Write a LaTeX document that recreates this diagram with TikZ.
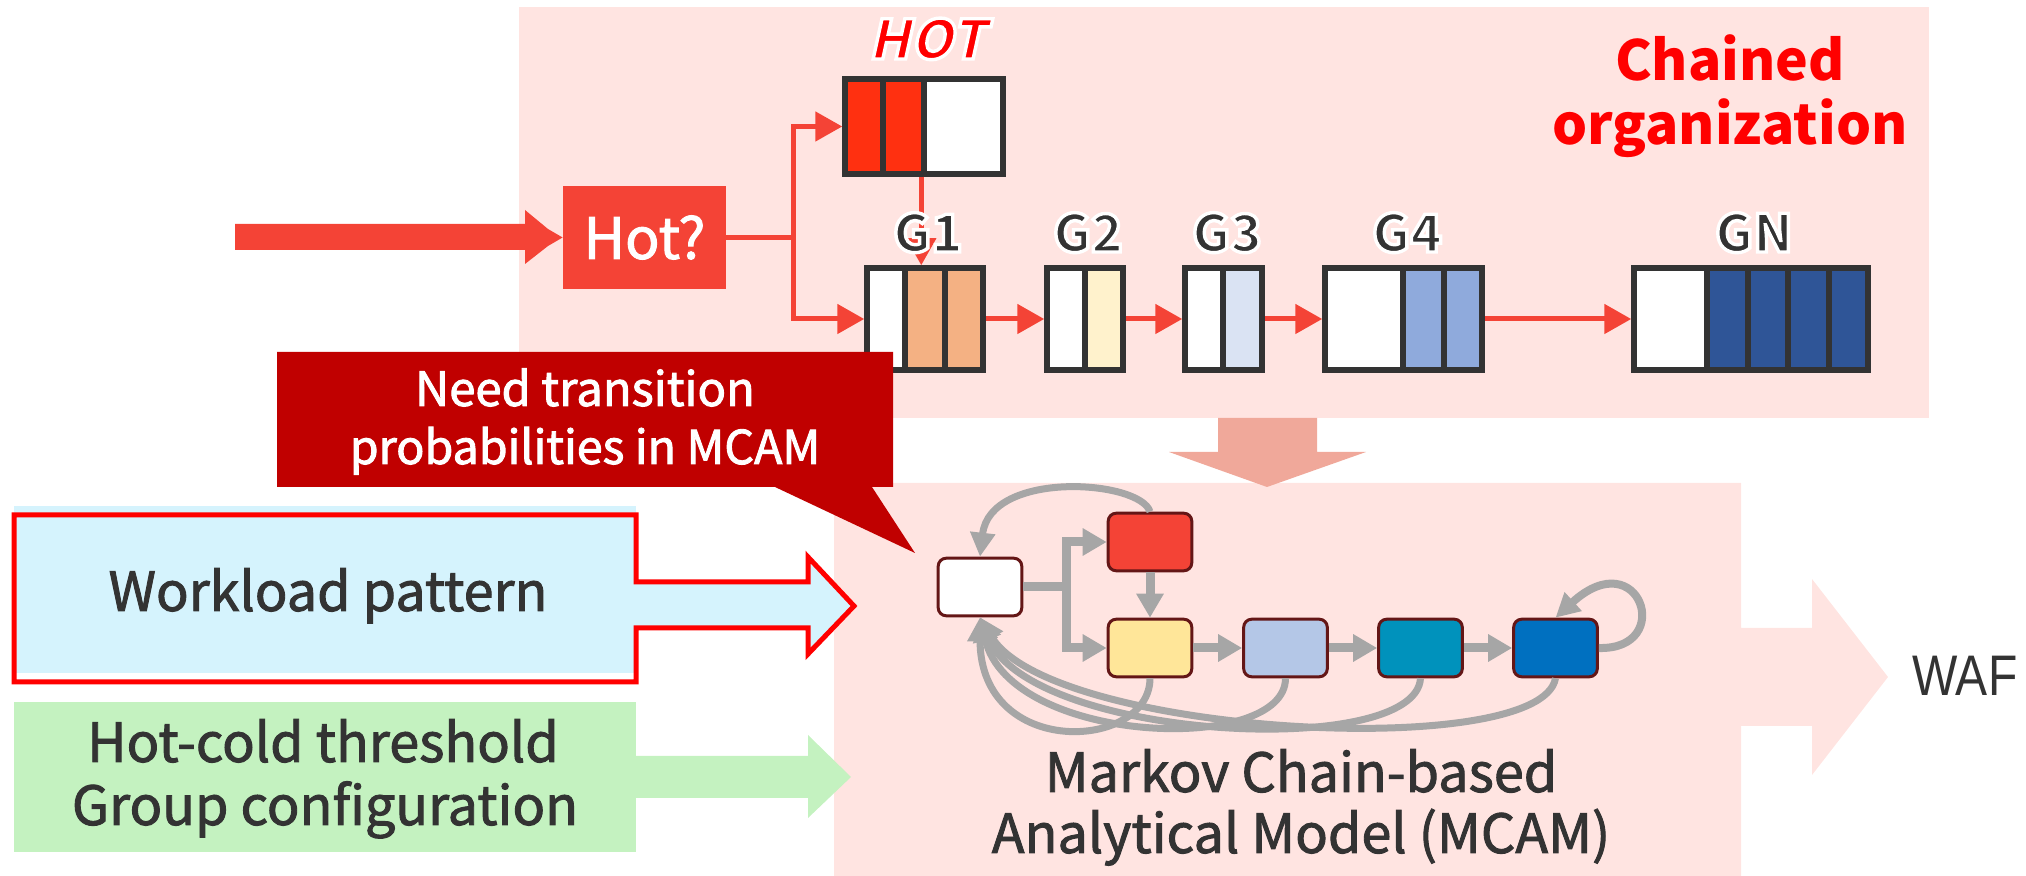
\documentclass[tikz,border=0pt]{standalone}
\usepackage{fontspec}
\setmainfont{Noto Sans CJK JP}
\newfontfamily\slantfont{Noto Sans CJK JP}[FakeSlant=0.22]
\newfontfamily\waffont{Liberation Sans}[FakeStretch=0.84]
\usetikzlibrary{arrows.meta,fit}

\definecolor{panelpink}{RGB}{255,228,225}
\definecolor{arrowred}{RGB}{244,67,54}
\definecolor{boxline}{RGB}{51,51,51}
\definecolor{hotred}{RGB}{255,48,16}
\definecolor{gpeach}{RGB}{244,177,131}
\definecolor{gcream}{RGB}{255,242,204}
\definecolor{glav}{RGB}{218,227,243}
\definecolor{gsky}{RGB}{143,170,220}
\definecolor{gnavy}{RGB}{47,85,151}
\definecolor{inktext}{RGB}{51,51,51}
\definecolor{salmon}{RGB}{240,168,154}
\definecolor{callred}{RGB}{192,0,0}
\definecolor{wlblue}{RGB}{213,243,253}
\definecolor{cfggreen}{RGB}{196,242,192}
\definecolor{stateline}{RGB}{100,22,22}
\definecolor{flowgray}{RGB}{166,166,166}
\definecolor{sred}{RGB}{244,67,54}
\definecolor{syellow}{RGB}{255,230,153}
\definecolor{sblue}{RGB}{180,199,231}
\definecolor{steal}{RGB}{0,146,188}
\definecolor{sdeep}{RGB}{0,112,192}
\definecolor{pure}{RGB}{255,0,0}

% bold glyphs whose edge is stroked in white: a thin white outline
\newcommand\haloed[1]{\special{pdf:literal direct 2 Tr 1 1 1 RG 1.7 w}#1\special{pdf:literal direct 0 Tr}}
% glyphs stroked in their own colour: a slightly heavier weight
\newcommand\heavier[1]{\special{pdf:literal direct 2 Tr 0.45 w}#1\special{pdf:literal direct 0 Tr}}

\begin{document}
\begin{tikzpicture}[x=0.5pt,y=-0.5pt,
  cell/.style={draw=boxline,line width=2.75pt,inner sep=0pt},
  grp/.style={draw=boxline,line width=2.75pt,inner sep=0pt},
  redline/.style={draw=arrowred,line width=2.5pt},
  redarrow/.style={redline,-{Triangle[length=13.5pt,width=14.5pt]}},
  flow/.style={draw=flowgray,line width=4.5pt},
  flowarrow/.style={flow,-{Triangle[length=12pt,width=13pt]}},
  backflow/.style={draw=flowgray,line width=3.5pt,-{Triangle[length=12pt,width=12pt]}},
  state/.style={draw=stateline,line width=1.5pt,rounded corners=4pt,inner sep=0pt,
                minimum width=41.8pt,minimum height=28.8pt},
  glabel/.style={text=boxline,font=\bfseries\fontsize{26}{30}\selectfont,anchor=base,inner sep=0pt},
  ink/.style={text=inktext,anchor=base,inner sep=0pt,font=\fontsize{27}{32}\selectfont},
]
\useasboundingbox (0,0) rectangle (2026,876);

% ---------- panels ----------
\fill[panelpink] (519,7) rectangle (1929,418);
\fill[panelpink] (834,483) -- (1741,483) -- (1741,628) -- (1812,628) -- (1812,579)
  -- (1888,677) -- (1812,775) -- (1812,726) -- (1741,726) -- (1741,876) -- (834,876) -- cycle;
\fill[salmon] (1218,418) -- (1317,418) -- (1317,452) -- (1366,452) -- (1267,487)
  -- (1169,452) -- (1218,452) -- cycle;

% ---------- chained organization ----------
\node[fill=arrowred,inner sep=0pt,minimum width=81.5pt,minimum height=51.5pt,
      text=white,font=\fontsize{28.5}{32}\selectfont] (hotq) at (644.5,237.5) {\heavier{Hot?}};
\fill[arrowred] (235,224) -- (525,224) -- (525,210) -- (548,229) -- (hotq.west)
  -- (548,246) -- (525,264) -- (525,250) -- (235,250) -- cycle;

% hot buffer
\node[cell,fill=hotred,fit={(845,79)(883,174)}] (hot1) {};
\node[cell,fill=hotred,fit={(883,79)(924,174)}] (hot2) {};
\node[cell,fill=white,fit={(924,79)(1003,174)}] (hot3) {};
\node[grp,fit={(845,79)(1003,174)}] (hot) {};

% G1
\node[cell,fill=white,fit={(867,268)(905,370)}] (g1a) {};
\node[cell,fill=gpeach,fit={(905,268)(945,370)}] (g1b) {};
\node[cell,fill=gpeach,fit={(945,268)(983,370)}] (g1c) {};
\node[grp,fit={(867,268)(983,370)}] (g1) {};
% G2
\node[cell,fill=white,fit={(1047,268)(1085,370)}] (g2a) {};
\node[cell,fill=gcream,fit={(1085,268)(1123,370)}] (g2b) {};
\node[grp,fit={(1047,268)(1123,370)}] (g2) {};
% G3
\node[cell,fill=white,fit={(1185,268)(1223,370)}] (g3a) {};
\node[cell,fill=glav,fit={(1223,268)(1262,370)}] (g3b) {};
\node[grp,fit={(1185,268)(1262,370)}] (g3) {};
% G4
\node[cell,fill=white,fit={(1325,268)(1403,370)}] (g4a) {};
\node[cell,fill=gsky,fit={(1403,268)(1444,370)}] (g4b) {};
\node[cell,fill=gsky,fit={(1444,268)(1482,370)}] (g4c) {};
\node[grp,fit={(1325,268)(1482,370)}] (g4) {};
% GN
\node[cell,fill=white,fit={(1634,268)(1707,370)}] (gna) {};
\node[cell,fill=gnavy,fit={(1707,268)(1748,370)}] (gnb) {};
\node[cell,fill=gnavy,fit={(1748,268)(1788,370)}] (gnc) {};
\node[cell,fill=gnavy,fit={(1788,268)(1829,370)}] (gnd) {};
\node[cell,fill=gnavy,fit={(1829,268)(1868,370)}] (gne) {};
\node[grp,fit={(1634,268)(1868,370)}] (gn) {};

% red connectors
\path (hotq.east) ++(67,0) coordinate (fork);
\draw[redline] (hotq.east) -- (fork);
\draw[redarrow] (fork) |- (hot.west);
\draw[redarrow] (fork) |- (g1.west);
\draw[redarrow] (hot.south -| hot3.west) -- (g1.north -| hot3.west);
\draw[redarrow] (g1.east) -- (g2.west);
\draw[redarrow] (g2.east) -- (g3.west);
\draw[redarrow] (g3.east) -- (g4.west);
\draw[redarrow] (g4.east) -- (gn.west);

% labels
\node[anchor=base,inner sep=0pt,text=pure,font=\slantfont\bfseries\fontsize{27}{30}\selectfont] (hotlabel) at (927,59) {\haloed{HOT}};
\node[glabel] (l1) at (928,252) {\haloed{G1}};
\node[glabel] (l2) at (1088,252) {\haloed{G2}};
\node[glabel] (l3) at (1227,252) {\haloed{G3}};
\node[glabel] (l4) at (1407,252) {\haloed{G4}};
\node[glabel] (ln) at (1754,252) {\haloed{GN}};

\node[anchor=base,inner sep=0pt,text=pure,font=\bfseries\fontsize{27.6}{32}\selectfont] (chain1) at (1730,80.5) {Chained};
\node[anchor=base,inner sep=0pt,text=pure,font=\bfseries\fontsize{27.6}{32}\selectfont] (chain2) at (1730,145) {organization};

% ---------- inputs ----------
\fill[callred] (277,352) -- (893,352) -- (893,487) -- (872,487) -- (915,553)
  -- (775,487) -- (277,487) -- cycle;
\node[anchor=base,inner sep=0pt,text=white,font=\fontsize{23.6}{28}\selectfont] (need1) at (585,406) {\heavier{Need transition}};
\node[anchor=base,inner sep=0pt,text=white,font=\fontsize{23.3}{28}\selectfont] (need2) at (585,464) {\heavier{probabilities in MCAM}};

\fill[wlblue] (14,506) rectangle (636,673);
\fill[wlblue] (636,582) -- (808,582) -- (808,557) -- (854,606) -- (808,654) -- (808,628) -- (636,628) -- cycle;
\draw[pure,line width=2.5pt] (14,515) -- (636,515) -- (636,582) -- (808,582) -- (808,557)
  -- (854,606) -- (808,654) -- (808,628) -- (636,628) -- (636,682) -- (14,682) -- cycle;
\node[ink] (workload) at (328,611) {\heavier{Workload pattern}};

\fill[cfggreen] (14,702) rectangle (636,852);
\fill[cfggreen] (636,756) -- (808,756) -- (808,735) -- (851,777) -- (808,818) -- (808,798) -- (636,798) -- cycle;
\node[ink] (cfg1) at (323,762) {\heavier{Hot-cold threshold}};
\node[ink] (cfg2) at (325,825) {\heavier{Group configuration}};

% ---------- Markov chain ----------
\node[state,fill=white] (mw) at (980,587) {};
\node[state,fill=sred] (mr) at (1150,542) {};
\node[state,fill=syellow] (my) at (1150,648) {};
\node[state,fill=sblue] (mb) at (1285.5,648) {};
\node[state,fill=steal] (mt) at (1420.5,648) {};
\node[state,fill=sdeep] (md) at (1555.5,648) {};

\path (mw.east) ++(43,0) coordinate (split);
\draw[flow] (mw.east) -- (split);
\draw[flowarrow] (split) |- (mr.west);
\draw[flowarrow] (split) |- (my.west);
\draw[flowarrow] (mr.south) -- (my.north);
\draw[flowarrow] (my.east) -- (mb.west);
\draw[flowarrow] (mb.east) -- (mt.west);
\draw[flowarrow] (mt.east) -- (md.west);
\draw[backflow] (mr.north) .. controls +(-10,-32) and +(10,-87) .. (mw.north);
\draw[backflow,line width=4pt] (md.east) .. controls +(77,2) and +(84.5,-77) .. (md.north);
\draw[backflow] (my.south) .. controls +(0,72) and +(0,143) .. (mw.south);
\draw[backflow] (mb.south) .. controls +(0,77) and +(30,128) .. (mw.south);
\draw[backflow] (mt.south) .. controls +(-5,82) and +(50,123) .. (mw.south);
\draw[backflow] (md.south) .. controls +(-15,84) and +(70,118) .. (mw.south);

\node[ink] (mcam1) at (1301,792) {\heavier{Markov Chain-based}};
\node[ink] (mcam2) at (1301,853) {\heavier{Analytical Model (MCAM)}};

\node[anchor=base west,inner sep=0pt,text=inktext,font=\waffont\fontsize{28.6}{32}\selectfont] (waf) at (1912,696) {WAF};
\end{tikzpicture}
\end{document}
